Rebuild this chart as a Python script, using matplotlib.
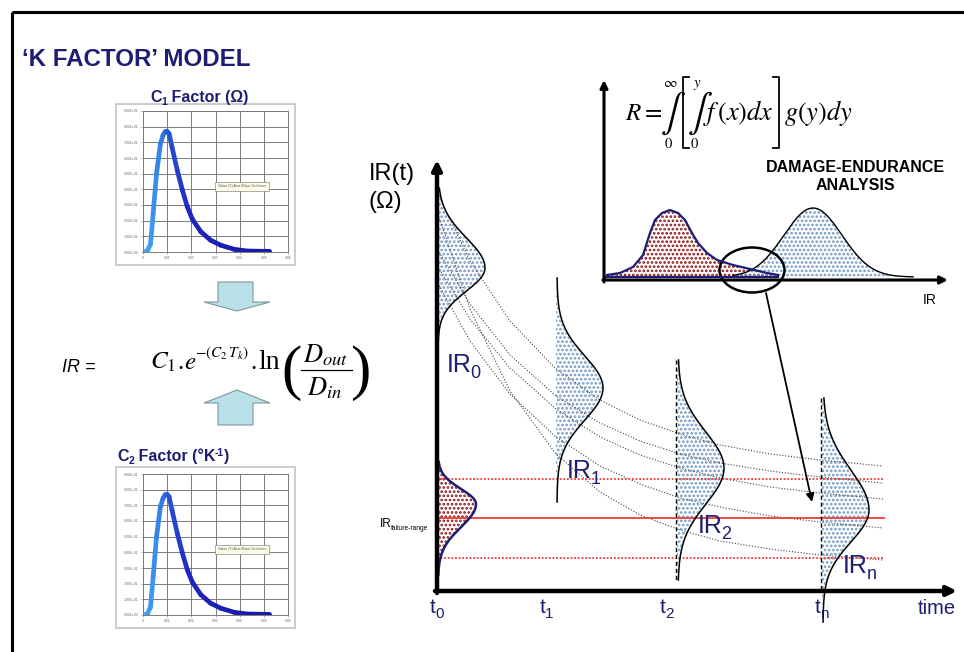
import numpy as np
import matplotlib.pyplot as plt
from matplotlib.patches import Polygon, Rectangle, Ellipse
from matplotlib.collections import LineCollection
import matplotlib.colors as mcolors

plt.rcParams['font.family'] = ['Liberation Sans', 'DejaVu Sans']
plt.rcParams['mathtext.fontset'] = 'stix'
plt.rcParams['hatch.linewidth'] = 1.3

W, H = 964, 652
NAVY = '#1d1d73'
BLUE_DOTS = '#7198c2'
RED_DOTS = '#8b1414'
SERIF = ['Liberation Serif', 'DejaVu Serif']

# C1 / C2 factor distributions (both charts show the same curve)
factor_x = [0, 0.0017, 0.0031, 0.0042, 0.0056, 0.0072, 0.0083, 0.0092, 0.0100,
            0.0108, 0.0120, 0.0142, 0.0163, 0.0183, 0.0204, 0.0239, 0.0280,
            0.0322, 0.0378, 0.0433, 0.0524]
factor_y = [0.5, 0.5, 5, 24.5, 50, 69, 74.5, 76.8, 77, 75.5, 67, 52, 39.5, 29,
            21, 13, 7.5, 4.3, 1.7, 0.6, 0.4]
factor_xticks = [0, 0.01, 0.02, 0.03, 0.04, 0.05, 0.06]
factor_xlabels = ['0', '0.01', '0.02', '0.03', '0.04', '0.05', '0.06']
factor_yticks = [0, 10, 20, 30, 40, 50, 60, 70, 80, 90]
factor_ylabels = ['0.00E+00', '1.00E+01', '2.00E+01', '3.00E+01', '4.00E+01',
                  '5.00E+01', '6.00E+01', '7.00E+01', '8.00E+01', '9.00E+01']

# IR distributions along the time axis: base x, peak y, peak width, spread above / below
dist_labels = ['0', '1', '2', 'n']
dist_base = [437, 556, 677, 822]
dist_peak = [268, 388, 468, 510]
dist_amp = [47, 46, 46, 46]
dist_s_up = [30, 32, 36, 40]
dist_s_dn = [23, 32, 36, 32]
dist_top = [188, 278, 360, 398]
dist_bottom = [345, 502, 580, 622]

# failure range distribution on the IR axis
fail_peak, fail_amp, fail_s_up, fail_s_dn = 504, 38, 15, 23
fail_levels = [479, 518, 558]

# degradation paths of IR over time
path_x = [435, 470, 510, 556, 600, 640, 680, 720, 770, 820, 883]
path_y = [
    [188, 261, 321, 369, 400, 420, 434, 445, 454, 460, 466],
    [245, 304, 355, 396, 423, 441, 454, 463, 471, 477, 483],
    [262, 319, 368, 409, 437, 455, 468, 478, 487, 493, 499],
    [278, 341, 394, 437, 466, 484, 498, 507, 516, 522, 528],
    [205, 309, 391, 454, 492, 515, 530, 541, 549, 555, 560],
]

# damage / endurance curves of the inset
damage_pts = [(607, 275), (620, 273), (633, 267), (643, 255), (650, 233), (655, 220),
              (662, 213), (670, 210), (678, 213), (685, 220), (692, 233), (698, 243),
              (707, 253), (717, 260), (733, 265), (750, 269), (767, 273), (778, 275)]
endurance_mu, endurance_s, endurance_amp = 813, 29, 69


def px_rect(x0, y0, x1, y1):
    return [x0 / W, 1 - y1 / H, (x1 - x0) / W, (y1 - y0) / H]


fig = plt.figure(figsize=(W / 100, H / 100), dpi=100)
ax = fig.add_axes([0, 0, 1, 1])
ax.set_xlim(0, W)
ax.set_ylim(H, 0)
ax.axis('off')
renderer = fig.canvas.get_renderer()


def run_text(x, y, parts, color='k', gap=-1.0, **kw):
    """Write text pieces one after another; each piece is (text, size, dy)."""
    for s, size, dy in parts:
        t = ax.text(x, y + dy, s, fontsize=size, color=color, va='baseline', **kw)
        bb = t.get_window_extent(renderer)
        x = ax.transData.inverted().transform((bb.x1, bb.y0))[0] + gap
    return x


# outer frame
ax.plot([12, W], [12, 12], color='k', lw=2.2, solid_capstyle='butt')
ax.plot([12, 12], [12, H], color='k', lw=2.2, solid_capstyle='butt')

ax.text(22, 66, '\u2018K FACTOR\u2019 MODEL', fontsize=17.4, fontweight='bold',
        color=NAVY, va='baseline')


def factor_chart(top):
    ax.add_patch(Rectangle((116, top), 179, 161, fill=False, ec='#c4c4c4', lw=1.2))
    sa = fig.add_axes(px_rect(143, top + 7, 288, top + 148))
    sa.set_xlim(0, 0.06)
    sa.set_ylim(0, 90)
    sa.set_xticks(factor_xticks)
    sa.set_xticklabels(factor_xlabels)
    sa.set_yticks(factor_yticks)
    sa.set_yticklabels(factor_ylabels)
    sa.tick_params(labelsize=2.4, labelcolor='#6a6a6a', length=1.5, width=0.5,
                   color='#909090', pad=1.5)
    sa.grid(color='#7a7a7a', lw=0.7)
    for s in sa.spines.values():
        s.set_color('#7a7a7a')
        s.set_linewidth(0.7)
    pts = np.column_stack([factor_x, factor_y])
    segs = np.stack([pts[:-1], pts[1:]], axis=1)
    cmap = mcolors.LinearSegmentedColormap.from_list(
        'fc', ['#45a8f5', '#2f6fe0', '#1f28c4', '#1a1aa8'])
    lc = LineCollection(segs, cmap=cmap, linewidths=3.4, capstyle='round',
                        joinstyle='round')
    lc.set_array(np.linspace(0, 1, len(segs)))
    sa.add_collection(lc)
    sa.text(0.041, 42, 'Value (Y) Axis Major Gridlines', fontsize=2.6,
            ha='center', va='center', color='#555555',
            bbox=dict(boxstyle='square,pad=0.7', fc='#fbfbe6', ec='#8a8a8a', lw=0.5))
    return sa


factor_chart(104)
run_text(150, 102, [('C', 11.5, 0), ('1', 7.5, 3), (' Factor (\u03a9)', 11.5, 0)],
         color=NAVY, gap=-0.3, fontweight='bold')

factor_chart(467)
run_text(117, 461, [('C', 11.5, 0), ('2', 7.5, 3), (' Factor (\u00b0K', 11.5, 0),
                    ('-1', 7.5, -5), (')', 11.5, 0)],
         color=NAVY, gap=-0.3, fontweight='bold')

# block arrows feeding the IR equation
arrow_fc, arrow_ec = '#b9dfe8', '#7f98a0'
ax.add_patch(Polygon([(218, 282), (253, 282), (253, 302), (270, 302), (237, 311),
                      (204, 302), (218, 302)], closed=True, fc=arrow_fc,
                     ec=arrow_ec, lw=0.8))
ax.add_patch(Polygon([(237, 390), (270, 403), (253, 403), (253, 425), (218, 425),
                      (218, 403), (204, 403)], closed=True, fc=arrow_fc,
                     ec=arrow_ec, lw=0.8))

# IR = C1 . e^-(C2 Tk) . ln(Dout / Din)
ax.text(62, 368, 'IR =', fontsize=13, style='italic', va='center')
ax.text(150, 369, r'$C_1$', fontsize=18, va='baseline')
ax.text(177, 369, '.', fontsize=18, family=SERIF, va='baseline')
ax.text(184, 369, r'$e$', fontsize=18, va='baseline')
ax.text(195, 357, r'$-(C_2\,T_k)$', fontsize=11, va='baseline')
ax.text(250, 369, '.', fontsize=18, family=SERIF, va='baseline')
ax.text(258, 369, 'ln', fontsize=20, family=SERIF, va='baseline')
ax.text(291, 373, '(', fontsize=44, family=SERIF, ha='center', va='center')
ax.text(360, 373, ')', fontsize=44, family=SERIF, ha='center', va='center')
ax.text(326, 362, r'$D_{out}$', fontsize=19, ha='center', va='baseline')
ax.plot([301, 352], [369.5, 369.5], color='k', lw=0.9)
ax.text(325, 395, r'$D_{in}$', fontsize=19, ha='center', va='baseline')

# main IR(t) diagram
for py in path_y:
    ax.plot(path_x, py, color='#444444', lw=0.8, ls=(0, (1, 1.6)))

for lvl, style in zip(fail_levels, [(0, (1, 1)), '-', (0, (1, 1))]):
    ax.plot([437, 884], [lvl, lvl], color='#f03a3a', lw=1.3, ls=style)

for i, (base, pk, amp, su, sd, y0, y1) in enumerate(zip(
        dist_base, dist_peak, dist_amp, dist_s_up, dist_s_dn, dist_top, dist_bottom)):
    yy = np.linspace(y0, y1, 300)
    s = np.where(yy < pk, su, sd)
    bx = amp * np.exp(-0.5 * ((yy - pk) / s) ** 2)
    ax.fill_betweenx(yy, base, base + bx, facecolor='none', edgecolor=BLUE_DOTS,
                     hatch='....', linewidth=0)
    ax.plot(base + bx + 1, yy, color='k', lw=1.1)
    if i >= 2:
        ax.plot([base - 1, base - 1], [y0, min(y1, 591)], color='k', lw=1.0,
                ls=(0, (3, 2)))

yy = np.linspace(462, 575, 200)
s = np.where(yy < fail_peak, fail_s_up, fail_s_dn)
fx = fail_amp * np.exp(-0.5 * ((yy - fail_peak) / s) ** 2)
ax.fill_betweenx(yy, 437, 437 + fx, facecolor='none', edgecolor=RED_DOTS,
                 hatch='....', linewidth=0)
ax.plot(437 + fx + 1, yy, color=NAVY, lw=1.8)

ax.annotate('', xy=(437, 160), xytext=(437, 593),
            arrowprops=dict(arrowstyle='-|>', lw=3.2, color='k',
                            mutation_scale=14, shrinkA=0, shrinkB=0))
ax.annotate('', xy=(957, 591), xytext=(435, 591),
            arrowprops=dict(arrowstyle='-|>', lw=3.2, color='k',
                            mutation_scale=14, shrinkA=0, shrinkB=0))

ax.text(369, 180, 'IR(t)', fontsize=17, va='baseline')
ax.text(369, 208, '(\u03a9)', fontsize=17, va='baseline')

for lab, x in zip(dist_labels, [430, 540, 660, 815]):
    run_text(x, 613, [('t', 15, 0), (lab, 11, 5)], color=NAVY, gap=-0.5)
ax.text(918, 614, 'time', fontsize=14.5, color=NAVY, va='baseline')

for lab, (x, y) in zip(dist_labels, [(447, 372), (567, 478), (698, 533), (843, 573)]):
    run_text(x, y, [('IR', 18, 0), (lab, 13, 6)], color=NAVY, gap=-1.5)

run_text(380, 527, [('IR', 8.5, 0), ('failure-range', 4.8, 2.5)], gap=-0.5)

# damage-endurance inset
dx, dy = zip(*damage_pts)
ax.fill_between(dx, dy, 277, facecolor='none', edgecolor=RED_DOTS,
                hatch='....', linewidth=0)
ex = np.linspace(733, 913, 300)
ey = 277 - endurance_amp * np.exp(-0.5 * ((ex - endurance_mu) / endurance_s) ** 2)
ax.fill_between(ex, ey, 277, facecolor='none', edgecolor=BLUE_DOTS,
                hatch='....', linewidth=0)
ax.plot(ex, ey, color='k', lw=1.0)
ax.plot(dx, dy, color=NAVY, lw=1.6)
ax.plot([604, 778], [277, 277], color=NAVY, lw=1.6)

ax.annotate('', xy=(604, 80), xytext=(604, 282),
            arrowprops=dict(arrowstyle='-|>', lw=2.2, color='k',
                            mutation_scale=11, shrinkA=0, shrinkB=0))
ax.annotate('', xy=(948, 280), xytext=(603, 280),
            arrowprops=dict(arrowstyle='-|>', lw=2.2, color='k',
                            mutation_scale=11, shrinkA=0, shrinkB=0))
ax.text(923, 304, 'IR', fontsize=10, va='baseline')

# R = int_0^inf [ int_0^y f(x)dx ] g(y)dy
ax.text(625, 120, r'$R=$', fontsize=18, va='baseline')
for xi, up in [(669, r'$\infty$'), (696, r'$y$')]:
    ax.text(xi, 113, '\u222b', fontsize=27, family=['STIXGeneral'], ha='center',
            va='center')
    ax.text(xi + 1, 87, up, fontsize=10.5, ha='center', va='baseline')
    ax.text(xi - 1, 148, r'$0$', fontsize=10.5, ha='center', va='baseline')
ax.plot([689, 683, 683, 689], [77, 77, 148, 148], color='k', lw=1.3)
ax.plot([773, 779, 779, 773], [77, 77, 148, 148], color='k', lw=1.3)
ax.text(703, 120, r'$f\,(x)dx$', fontsize=19, va='baseline')
ax.text(784, 120, r'$g(y)dy$', fontsize=19, va='baseline')

ax.text(855, 167, 'DAMAGE-ENDURANCE', fontsize=11.5, fontweight='bold',
        ha='center', va='center')
ax.text(855, 185, 'ANALYSIS', fontsize=11.5, fontweight='bold',
        ha='center', va='center')

ax.add_patch(Ellipse((752, 270), 65, 45, fill=False, ec='k', lw=1.8))
ax.annotate('', xy=(812, 502), xytext=(766, 293),
            arrowprops=dict(arrowstyle='-|>', lw=1.3, color='k',
                            mutation_scale=12, shrinkA=0, shrinkB=0))

fig.savefig('out.png', dpi=100)
